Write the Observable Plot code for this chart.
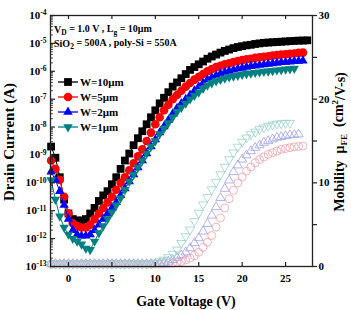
<!DOCTYPE html>
<html><head><meta charset="utf-8">
<script src="https://cdn.jsdelivr.net/npm/d3@7"></script>
<script src="https://cdn.jsdelivr.net/npm/@observablehq/plot@0.6"></script>
<style>body{margin:0;background:#fff}svg{display:block}</style>
</head><body><div id="chart"></div>
<script>
// Gate voltage sweep (V)
const vg = [-2,-1.5,-1,-0.5,0,0.5,1,1.5,2,2.5,3,3.5,4,4.5,5,5.5,6,6.5,7,7.5,8,8.5,9,9.5,10,10.5,11,11.5,12,12.5,13,13.5,14,14.5,15,15.5,16,16.5,17,17.5,18,18.5,19,19.5,20,20.5,21,21.5,22,22.5,23,23.5,24,24.5,25,25.5,26,26.5,27,27.5];
const seriesNames = ["W=10μm","W=5μm","W=2μm","W=1μm"];
// log10 of drain current (A)
const logI_W10 = [-8.7,-9.1,-9.8,-10.6,-11.1,-11.3,-11.35,-11.35,-11.3,-11.1,-10.9,-10.65,-10.45,-10.3,-10.05,-9.8,-9.5,-9.2,-8.95,-8.65,-8.4,-8.15,-7.9,-7.65,-7.4,-7.15,-6.95,-6.75,-6.55,-6.4,-6.25,-6.1,-5.95,-5.85,-5.75,-5.65,-5.55,-5.47,-5.4,-5.33,-5.27,-5.22,-5.17,-5.13,-5.1,-5.07,-5.05,-5.02,-5.0,-4.98,-4.97,-4.96,-4.95,-4.94,-4.93,-4.92,-4.91,-4.9,-4.9,-4.89];
const logI_W5 = [-9.2,-9.5,-9.9,-10.5,-11.1,-11.45,-11.55,-11.6,-11.6,-11.5,-11.3,-11.1,-10.9,-10.7,-10.5,-10.25,-10.0,-9.8,-9.55,-9.3,-9.05,-8.8,-8.5,-8.2,-7.9,-7.65,-7.4,-7.2,-7.0,-6.85,-6.7,-6.55,-6.42,-6.3,-6.2,-6.1,-6.0,-5.92,-5.85,-5.8,-5.75,-5.71,-5.67,-5.63,-5.6,-5.57,-5.55,-5.52,-5.5,-5.48,-5.46,-5.44,-5.42,-5.4,-5.39,-5.37,-5.36,-5.34,-5.33];
const logI_W2 = [-9.6,-9.9,-10.3,-10.8,-11.3,-11.7,-11.85,-11.9,-11.9,-11.85,-11.7,-11.5,-11.3,-11.1,-10.9,-10.7,-10.45,-10.2,-9.95,-9.7,-9.45,-9.2,-8.95,-8.7,-8.45,-8.2,-7.98,-7.75,-7.52,-7.32,-7.15,-7.0,-6.85,-6.7,-6.55,-6.42,-6.3,-6.22,-6.15,-6.09,-6.03,-5.99,-5.95,-5.91,-5.88,-5.85,-5.82,-5.8,-5.78,-5.76,-5.74,-5.72,-5.7,-5.68,-5.67,-5.66,-5.64,-5.63,-5.62];
const logI_W1 = [-9.9,-10.6,-11.2,-11.6,-11.85,-12.0,-12.1,-12.2,-12.35,-12.4,-12.1,-11.8,-11.55,-11.3,-11.05,-10.8,-10.55,-10.25,-9.95,-9.7,-9.45,-9.2,-8.95,-8.7,-8.5,-8.25,-8.05,-7.85,-7.65,-7.45,-7.3,-7.15,-7.0,-6.87,-6.75,-6.62,-6.5,-6.42,-6.35,-6.3,-6.25,-6.21,-6.18,-6.15,-6.12,-6.09,-6.07,-6.05,-6.03,-6.01,-6.0,-5.98,-5.96,-5.95,-5.93,-5.92,-5.9];
// field-effect mobility (cm^2/V-s)
const mu_W5 = [0.3,0.3,0.3,0.3,0.3,0.3,0.3,0.3,0.3,0.3,0.3,0.3,0.3,0.3,0.3,0.3,0.3,0.3,0.3,0.3,0.3,0.3,0.3,0.3,0.3,0.3,0.3,0.35,0.4,0.5,0.6,0.8,1.0,1.3,1.7,2.3,2.9,3.7,4.7,5.8,7.0,8.1,9.1,10.0,10.7,11.4,11.9,12.4,12.8,13.1,13.4,13.6,13.8,14.0,14.1,14.2,14.3,14.35,14.4];
const mu_W2 = [0.3,0.3,0.3,0.3,0.3,0.3,0.3,0.3,0.3,0.3,0.3,0.3,0.3,0.3,0.3,0.3,0.3,0.3,0.3,0.3,0.3,0.3,0.3,0.3,0.3,0.35,0.45,0.6,0.8,1.05,1.35,1.7,2.2,2.8,3.4,4.2,5.1,6.1,7.1,8.2,9.3,10.3,11.3,12.1,12.8,13.3,13.8,14.2,14.5,14.8,15.0,15.2,15.4,15.5,15.6,15.7,15.75,15.8];
const mu_W1 = [0.3,0.3,0.3,0.3,0.3,0.3,0.3,0.3,0.3,0.3,0.3,0.3,0.3,0.3,0.3,0.3,0.3,0.3,0.3,0.3,0.3,0.3,0.3,0.35,0.45,0.6,0.8,1.1,1.5,2.0,2.8,3.6,4.4,5.4,6.4,7.4,8.3,9.2,10.1,11.0,11.9,12.8,13.6,14.3,14.9,15.4,15.8,16.1,16.4,16.6,16.8,16.95,17.05,17.1,17.15,17.15];
// ticks
const xTicks = [0,5,10,15,20,25];
const yDecades = [-13,-12,-11,-10,-9,-8,-7,-6,-5,-4];
const muTicks = [0,5,10,15,20,25,30];

const FONT = "'Liberation Serif','Times New Roman',serif";
const MU_MAX = 30, LOG_MIN = -13, LOG_MAX = -4;
const muToI = m => 10 ** (LOG_MIN + m * (LOG_MAX - LOG_MIN) / MU_MAX);
const iToMu = v => Math.round((Math.log10(v) - LOG_MIN) * MU_MAX / (LOG_MAX - LOG_MIN));

const cur = (arr) => arr.map((e, i) => ({vg: vg[i], y: 10 ** e}));
const mob = (arr) => arr.map((m, i) => ({vg: vg[i], y: muToI(m)}));

const styles = [
  {name: seriesNames[0], data: logI_W10, color: "#000000", symbol: "square", r: 4.4, rotate: 0},
  {name: seriesNames[1], data: logI_W5, color: "#ff0000", symbol: "circle", r: 4.3, rotate: 0},
  {name: seriesNames[2], data: logI_W2, color: "#0000ff", symbol: "triangle", r: 3.5, rotate: 0},
  {name: seriesNames[3], data: logI_W1, color: "#008080", symbol: "triangle", r: 3.5, rotate: 180}
];
const mobStyles = [
  {data: mu_W5, color: "#f0a0aa", symbol: "circle", r: 4.0, rotate: 0},
  {data: mu_W2, color: "#a0a0ea", symbol: "triangle", r: 3.4, rotate: 0},
  {data: mu_W1, color: "#98d2ca", symbol: "triangle", r: 3.4, rotate: 180}
];

const frameW = 351 - 50 - 39, frameH = 310 - 15 - 44;
const minor = [];
for (const e of yDecades.slice(0, -1)) for (let k = 2; k <= 9; k++) minor.push(k * 10 ** e);

const marks = [];
for (const s of mobStyles) {
  marks.push(Plot.dot(mob(s.data), {x: "vg", y: "y", symbol: s.symbol, r: s.r, rotate: s.rotate, stroke: s.color, strokeWidth: 0.8, fill: "none"}));
}
for (const s of styles) {
  marks.push(Plot.line(cur(s.data), {x: "vg", y: "y", stroke: s.color, strokeWidth: 1}));
  marks.push(Plot.dot(cur(s.data), {x: "vg", y: "y", symbol: s.symbol, r: s.r, rotate: s.rotate, fill: s.color, stroke: "none"}));
}
marks.push(
  Plot.frame({stroke: "#222", strokeWidth: 1.3}),
  Plot.tickX(xTicks, {x: d => d, insetTop: frameH - 4, stroke: "#222", strokeWidth: 1.2}),
  Plot.tickX(xTicks, {x: d => d, insetBottom: frameH - 4, stroke: "#222", strokeWidth: 1.2}),
  Plot.tickY(yDecades.map(e => 10 ** e), {y: d => d, insetRight: frameW - 5, stroke: "#222", strokeWidth: 1.2}),
  Plot.tickY(minor, {y: d => d, insetRight: frameW - 3, stroke: "#222", strokeWidth: 0.8}),
  Plot.axisX({anchor: "bottom", ticks: xTicks, tickSize: 0, tickPadding: 8, label: null}),
  Plot.axisY({anchor: "left", ticks: yDecades.map(e => 10 ** e), tickSize: 0, tickPadding: 4, tickFormat: v => "10^" + Math.round(Math.log10(v)), label: null}),
  Plot.axisY({anchor: "right", ticks: muTicks.map(muToI), tickSize: 4, tickPadding: 2, tickFormat: iToMu, label: null, stroke: "#222", strokeWidth: 1.2})
);

const plot = Plot.plot({
  width: 351, height: 310,
  marginLeft: 50, marginRight: 39, marginTop: 15, marginBottom: 44,
  style: {fontFamily: FONT, fontSize: "11px", fontWeight: "bold", background: "white", color: "black"},
  x: {domain: [-2.07, 28.1]},
  y: {type: "log", domain: [1e-13, 1e-4]},
  marks
});
document.getElementById("chart").appendChild(plot);

const svg = d3.select(plot);
// superscript exponents on left tick labels
svg.selectAll("text").each(function() {
  const t = d3.select(this);
  const s = t.text();
  if (s.startsWith("10^")) {
    t.text("10");
    t.append("tspan").attr("dy", "-0.5em").attr("font-size", "7.5px").text(s.slice(3));
  }
});

const g = svg.append("g").attr("font-family", FONT).attr("font-weight", "bold").attr("fill", "black").attr("text-anchor", "start");
// annotation
const a1 = g.append("text").attr("x", 54).attr("y", 33).attr("font-size", "10px");
a1.append("tspan").text("V");
a1.append("tspan").attr("dy", "0.3em").attr("font-size", "7.5px").text("D");
a1.append("tspan").attr("dy", "-0.3em").text(" = 1.0 V , L");
a1.append("tspan").attr("dy", "0.3em").attr("font-size", "7.5px").text("g");
a1.append("tspan").attr("dy", "-0.3em").text(" = 10μm");
const a2 = g.append("text").attr("x", 54).attr("y", 47).attr("font-size", "10px");
a2.append("tspan").text("SiO");
a2.append("tspan").attr("dy", "0.3em").attr("font-size", "7.5px").text("2");
a2.append("tspan").attr("dy", "-0.3em").text(" = 500A , poly-Si = 550A");

// legend
styles.forEach((s, i) => {
  const y = 82 + 15 * i;
  g.append("line").attr("x1", 58).attr("x2", 78).attr("y1", y).attr("y2", y).attr("stroke", s.color).attr("stroke-width", 1.3);
  const sym = s.symbol === "square" ? d3.symbolSquare : s.symbol === "circle" ? d3.symbolCircle : d3.symbolTriangle;
  g.append("path").attr("d", d3.symbol(sym, Math.PI * s.r * s.r)()).attr("transform", `translate(68,${y}) rotate(${s.rotate})`).attr("fill", s.color);
  g.append("text").attr("x", 80).attr("y", y).attr("dy", "0.35em").attr("font-size", "11px").text(s.name);
});

// axis titles
g.append("text").attr("x", 186).attr("y", 306).attr("text-anchor", "middle").attr("font-size", "14px").text("Gate Voltage (V)");
g.append("text").attr("transform", "translate(14,142) rotate(-90)").attr("text-anchor", "middle").attr("font-size", "15px").text("Drain Current (A)");
const rt = g.append("text").attr("transform", "translate(344,142) rotate(-90)").attr("text-anchor", "middle").attr("font-size", "14px");
rt.append("tspan").text("Mobility  μ");
rt.append("tspan").attr("dy", "0.3em").attr("font-size", "9px").text("FE");
rt.append("tspan").attr("dy", "-0.3em").text("  (cm");
rt.append("tspan").attr("dy", "-0.45em").attr("font-size", "9px").text("2");
rt.append("tspan").attr("dy", "0.45em").text("/V-s)");
</script>
</body></html>
